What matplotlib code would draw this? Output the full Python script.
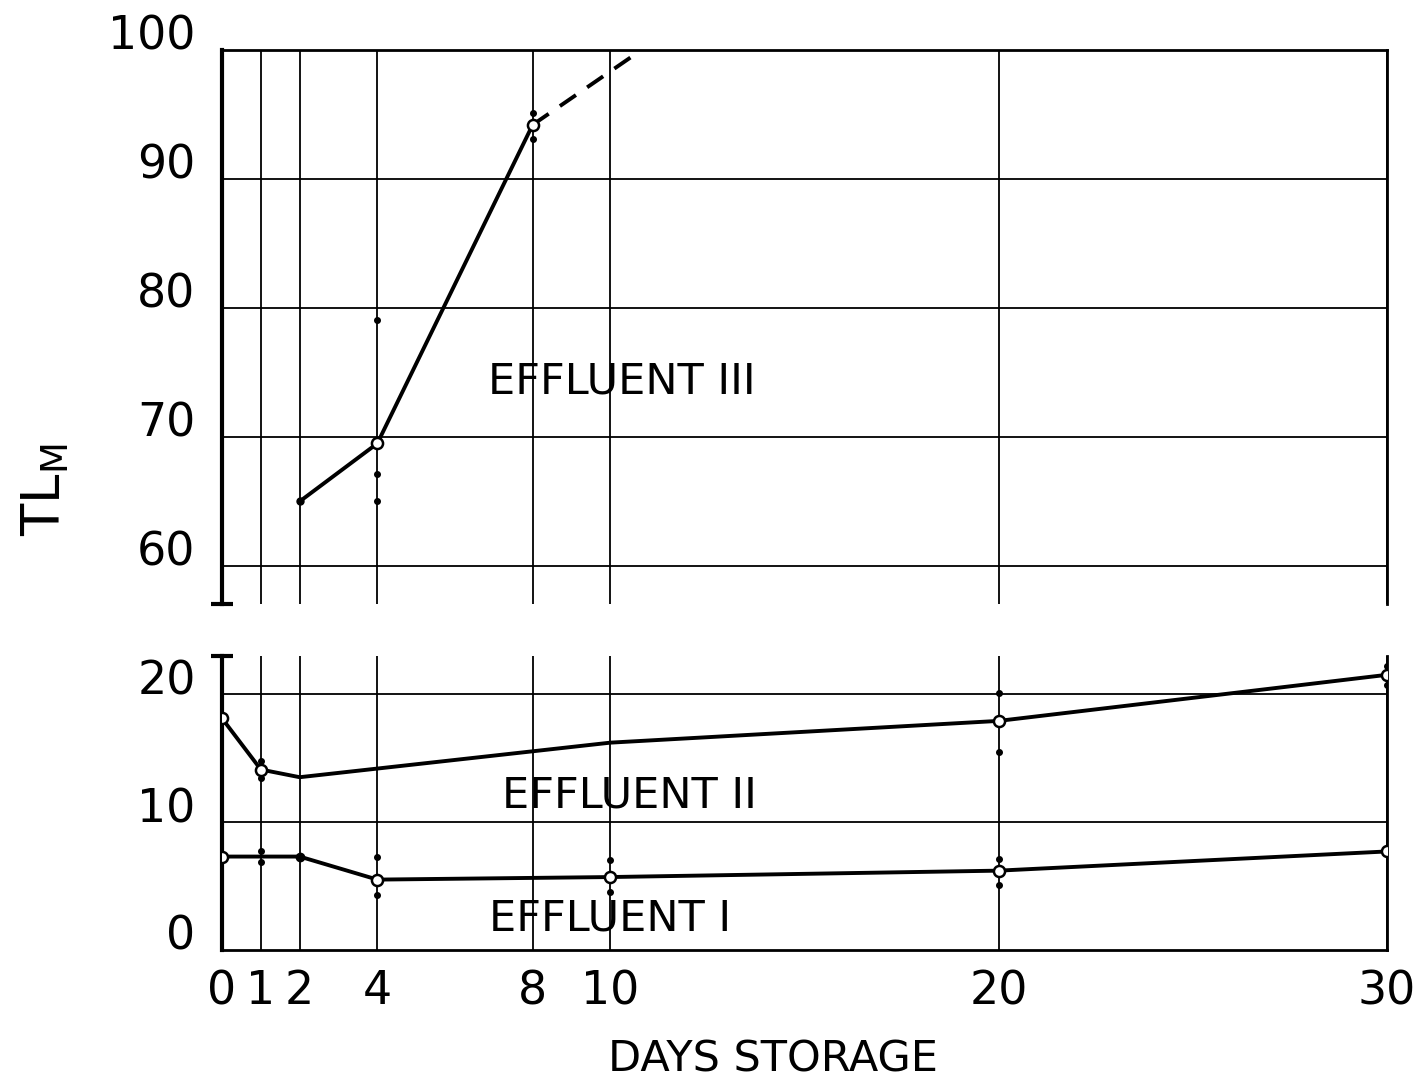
import matplotlib.pyplot as plt
import numpy as np

# x positions (days of storage)
days_ticks = [0, 1, 2, 4, 8, 10, 20, 30]

# Effluent III (upper panel)
e3_days = [2, 4, 8]
e3_mean = [65.0, 69.5, 94.2]
e3_rep_days = [4, 4, 4, 8, 8]
e3_rep_vals = [79.1, 67.1, 65.0, 95.1, 93.1]
e3_ext_days = [8, 10.8]
e3_ext_vals = [94.2, 100.0]

# Effluent II (lower panel)
e2_days = [0, 1, 2, 10, 20, 30]
e2_mean = [18.1, 14.1, 13.5, 16.2, 17.9, 21.5]
e2_circ_days = [0, 1, 20, 30]
e2_circ_vals = [18.1, 14.1, 17.9, 21.5]
e2_rep_days = [1, 1, 20, 20, 30, 30]
e2_rep_vals = [14.8, 13.4, 20.1, 15.5, 22.2, 20.7]

# Effluent I (lower panel)
e1_days = [0, 1, 2, 4, 10, 20, 30]
e1_mean = [7.3, 7.3, 7.3, 5.5, 5.7, 6.2, 7.7]
e1_circ_days = [0, 4, 10, 20, 30]
e1_circ_vals = [7.3, 5.5, 5.7, 6.2, 7.7]
e1_rep_days = [1, 1, 4, 4, 10, 10, 20, 20]
e1_rep_vals = [7.7, 6.9, 7.3, 4.3, 7.0, 4.5, 7.1, 5.1]

top_yticks = [60, 70, 80, 90, 100]
bot_yticks = [0, 10, 20]

plt.rcParams['font.family'] = 'DejaVu Sans'

fig = plt.figure(figsize=(14.22, 10.84), dpi=100)
ax1 = fig.add_axes([222/1422, 1-604/1084, (1387-222)/1422, (604-50)/1084])
ax2 = fig.add_axes([222/1422, 1-950/1084, (1387-222)/1422, (950-656)/1084])

for ax in (ax1, ax2):
    ax.set_xlim(0, 30)
    ax.set_xticks(days_ticks)
    ax.tick_params(length=0, labelsize=33, pad=19)
    for v in days_ticks:
        ax.axvline(v, color='black', lw=1.3, zorder=1)
    for s in ax.spines.values():
        s.set_linewidth(2)

# upper panel
ax1.set_ylim(57.05, 100)
ax1.set_yticks(top_yticks)
for v in top_yticks[:-1]:
    ax1.axhline(v, color='black', lw=1.3, zorder=1)
ax1.spines['bottom'].set_visible(False)
ax1.spines['left'].set_linewidth(3)
ax1.set_xticklabels([])
ax1.plot([0], [0], marker='_', ms=16, mew=3, color='black',
         transform=ax1.transAxes, clip_on=False)

ax1.plot(e3_days, e3_mean, color='black', lw=2.8, zorder=3)
ax1.plot(e3_ext_days, e3_ext_vals, color='black', lw=2.8, ls=(0, (5, 3.5)), zorder=3)
ax1.plot(e3_days[1:], e3_mean[1:], 'o', mfc='white', mec='black', mew=1.8, ms=8, zorder=4)
ax1.plot(e3_days[:1], e3_mean[:1], 'o', color='black', ms=5, zorder=4)
ax1.plot(e3_rep_days, e3_rep_vals, 'o', color='black', ms=4, zorder=4)
ax1.text(10.3, 74.3, 'EFFLUENT III', fontsize=31, ha='center', va='center')

# lower panel
ax2.set_ylim(0, 22.97)
ax2.set_yticks(bot_yticks)
for v in bot_yticks[1:]:
    ax2.axhline(v, color='black', lw=1.3, zorder=1)
ax2.spines['top'].set_visible(False)
ax2.spines['left'].set_linewidth(3)
ax2.plot([0], [1], marker='_', ms=16, mew=3, color='black',
         transform=ax2.transAxes, clip_on=False)

ax2.plot(e2_days, e2_mean, color='black', lw=2.8, zorder=3)
ax2.plot(e2_circ_days, e2_circ_vals, 'o', mfc='white', mec='black', mew=1.8, ms=8, zorder=4)
ax2.plot(e2_rep_days, e2_rep_vals, 'o', color='black', ms=4, zorder=4)
ax2.plot(e1_days, e1_mean, color='black', lw=2.8, zorder=3)
ax2.plot(e1_circ_days, e1_circ_vals, 'o', mfc='white', mec='black', mew=1.8, ms=8, zorder=4)
ax2.plot([2], [7.3], 'o', color='black', ms=6, zorder=4)
ax2.plot(e1_rep_days, e1_rep_vals, 'o', color='black', ms=4, zorder=4)
ax2.text(10.5, 12.1, 'EFFLUENT II', fontsize=31, ha='center', va='center')
ax2.text(10.0, 2.5, 'EFFLUENT I', fontsize=31, ha='center', va='center')

for ax in (ax1, ax2):
    for lab in ax.get_yticklabels():
        lab.set_va('baseline')
ax2.tick_params(axis='x', pad=14)

fig.text(45/1422, 1-490/1084, r'$\mathregular{TL_M}$', fontsize=38,
         rotation=90, ha='center', va='center')
fig.text(773/1422, 1-1060/1084, 'DAYS STORAGE', fontsize=31,
         ha='center', va='center')

fig.savefig('out.png', dpi=100)
